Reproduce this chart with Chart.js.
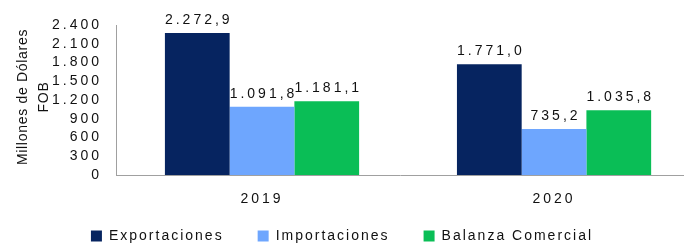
<!DOCTYPE html>
<html><head><meta charset="utf-8">
<script src="https://cdn.jsdelivr.net/npm/chart.js@4/dist/chart.umd.min.js"></script>
<style>html,body{margin:0;padding:0;background:#fff}#wrap{width:684px;height:246px}</style>
</head><body><div id="wrap"><canvas id="c"></canvas></div>
<script>
const categories = ['2019', '2020'];
const exportaciones = [2272.9, 1771.0];
const importaciones = [1091.8, 735.2];
const balanza = [1181.1, 1035.8];
const seriesNames = ['Exportaciones', 'Importaciones', 'Balanza Comercial'];
const yTicks = [0, 300, 600, 900, 1200, 1500, 1800, 2100, 2400];
const yTitle = ['Millones de Dólares', 'FOB'];

const colors = ['#062460', '#6EA6FE', '#0ABE56'];
const FONT = 'Liberation Sans, Arial, sans-serif';
const NUM_SPACING = '3px';
const LEGEND_SPACING = '2px';
const TITLE_SPACING = '0.7px';

function fmtThousands(v) {
  return Math.round(v).toString().replace(/\B(?=(\d{3})+(?!\d))/g, '.');
}
function fmtValue(v) {
  const parts = v.toFixed(1).split('.');
  return parts[0].replace(/\B(?=(\d{3})+(?!\d))/g, '.') + ',' + parts[1];
}
const toPts = arr => arr.map((v, i) => ({x: i, y: v}));

const spacingPlugin = {
  id: 'spacing',
  afterInit(chart) {
    const L = chart.legend;
    if (!L) return;
    ['fit', 'draw'].forEach(name => {
      const orig = L[name].bind(L);
      L[name] = function (...args) {
        const c = chart.ctx;
        const prev = c.letterSpacing;
        c.letterSpacing = LEGEND_SPACING;
        const r = orig(...args);
        c.letterSpacing = prev;
        return r;
      };
    });
  },
  beforeLayout(chart) { chart.ctx.letterSpacing = NUM_SPACING; },
  beforeDraw(chart) {
    chart.ctx.letterSpacing = NUM_SPACING;
    // let the category labels extend below the (shortened) x-axis box
    if (chart.scales.x) chart.scales.x._computeLabelArea = () => undefined;
  }
};

const labelsPlugin = {
  id: 'valueLabels',
  afterDatasetsDraw(chart) {
    const ctx = chart.ctx;
    ctx.save();
    ctx.letterSpacing = NUM_SPACING;
    ctx.font = '14px ' + FONT;
    ctx.fillStyle = '#111';
    ctx.textAlign = 'center';
    ctx.textBaseline = 'bottom';
    chart.data.datasets.forEach((ds, di) => {
      chart.getDatasetMeta(di).data.forEach((bar, i) => {
        ctx.fillText(fmtValue(ds.data[i].y), bar.x + 1.5, bar.y - 6);
      });
    });
    ctx.restore();
  }
};

const yTitlePlugin = {
  id: 'yTitle',
  afterDraw(chart) {
    const ctx = chart.ctx;
    const a = chart.chartArea;
    ctx.save();
    ctx.letterSpacing = TITLE_SPACING;
    ctx.font = '14px ' + FONT;
    ctx.fillStyle = '#111';
    ctx.textAlign = 'center';
    ctx.textBaseline = 'middle';
    const cy = (a.top + a.bottom) / 2 - 3;
    const xs = [a.left - 93, a.left - 72];
    yTitle.forEach((line, i) => {
      ctx.save();
      ctx.translate(xs[i], cy);
      ctx.rotate(-Math.PI / 2);
      ctx.fillText(line, 0, 0);
      ctx.restore();
    });
    ctx.restore();
  }
};

new Chart(document.getElementById('c'), {
  type: 'bar',
  data: {
    datasets: [
      {label: seriesNames[0], data: toPts(exportaciones), backgroundColor: colors[0]},
      {label: seriesNames[1], data: toPts(importaciones), backgroundColor: colors[1]},
      {label: seriesNames[2], data: toPts(balanza), backgroundColor: colors[2]}
    ]
  },
  options: {
    responsive: true,
    maintainAspectRatio: false,
    animation: false,
    devicePixelRatio: 1,
    categoryPercentage: 0.665,
    barPercentage: 1.0,
    layout: {padding: {left: 0, top: 25, right: 0, bottom: 0}},
    plugins: {
      legend: {
        position: 'bottom',
        maxHeight: 51,
        labels: {
          font: {family: FONT, size: 14},
          color: '#111',
          boxWidth: 11,
          boxHeight: 11,
          padding: 34
        }
      },
      tooltip: {enabled: false}
    },
    scales: {
      x: {
        type: 'linear',
        offset: false,
        min: -0.5,
        max: 1.445,
        grid: {display: false, drawTicks: false, offset: false},
        border: {display: true, color: '#A0A0A0', width: 1},
        afterFit: s => { s.height = 20; },
        afterBuildTicks: s => { s.ticks = categories.map((c, i) => ({value: i})); },
        ticks: {
          autoSkip: false,
          maxRotation: 0,
          padding: 16,
          font: {family: FONT, size: 14},
          color: '#111',
          callback: v => categories[v]
        }
      },
      y: {
        min: 0,
        max: 2400,
        grid: {display: false, drawTicks: false},
        border: {display: true, color: '#A0A0A0', width: 1},
        afterFit: s => { s.width = 116; },
        afterBuildTicks: s => { s.ticks = yTicks.map(v => ({value: v})); },
        ticks: {
          autoSkip: false,
          padding: 14,
          font: {family: FONT, size: 14},
          color: '#111',
          callback: v => fmtThousands(v)
        }
      }
    }
  },
  plugins: [spacingPlugin, labelsPlugin, yTitlePlugin]
});
</script>
</body></html>
